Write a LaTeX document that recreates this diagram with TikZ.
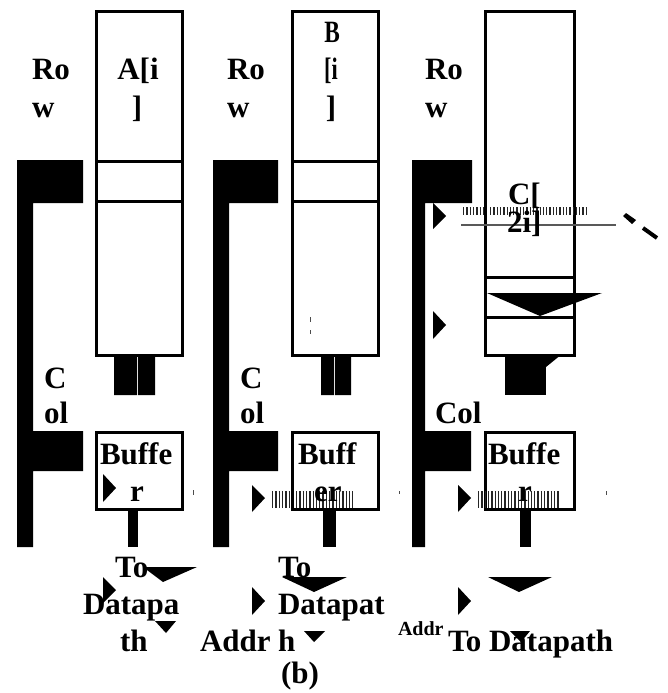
\documentclass[tikz,border=0pt]{standalone}
\usepackage{fontspec}
\usepackage{graphicx}
\setmainfont{Liberation Serif}
\begin{document}
\begin{tikzpicture}[x=1pt,y=-1pt,
  box/.style={draw=black,line width=3pt,fill=none},
  solid block/.style={fill=black,draw=none},
  lbl/.style={anchor=base west,inner sep=0pt,outer sep=0pt,font=\fontsize{31}{31}\selectfont\bfseries},
  lblc/.style={lbl,anchor=base},
  hatch/.style={draw=black!85,line width=8pt,dash pattern=on 1.3pt off 2pt},
  hatchb/.style={draw=black!85,line width=17pt,dash pattern=on 1.3pt off 2pt},
  speck/.style={draw=black!70,line width=1pt}]
\useasboundingbox (0,0) rectangle (667,693);
% column A
\fill[solid block] (17,160) rectangle (83,203) (17,160) rectangle (33,547) (33,431) rectangle (83,471);
\draw[box] (96.5,11.5) rectangle (182.5,355.5);
\draw[box] (96.5,161.5) -- (182.5,161.5) (96.5,201.5) -- (182.5,201.5);
\fill[solid block] (114,357) rectangle (137,395) (138,357) rectangle (155,395);
\draw[box] (96.5,432.5) rectangle (182.5,509.5);
\fill[solid block] (128,511) rectangle (138,547);
% column B
\fill[solid block] (213,160) rectangle (278,203) (213,160) rectangle (229,547) (229,431) rectangle (278,471);
\draw[box] (292.5,11.5) rectangle (378.5,355.5);
\draw[box] (292.5,161.5) -- (378.5,161.5) (292.5,201.5) -- (378.5,201.5);
\fill[solid block] (321,357) rectangle (334,395) (335,357) rectangle (351,395);
\draw[box] (292.5,432.5) rectangle (378.5,509.5);
\fill[solid block] (323,511) rectangle (336,547);
% column C
\fill[solid block] (412,160) rectangle (472,203) (412,160) rectangle (425,547) (425,431) rectangle (471,471);
\draw[box] (485.5,11.5) rectangle (574.5,355.5);
\draw[box] (485.5,277.5) -- (574.5,277.5) (485.5,317.5) -- (574.5,317.5);
\fill[solid block] (505,357) rectangle (546,395);
\draw[box] (485.5,432.5) rectangle (574.5,509.5);
\fill[solid block] (520,511) rectangle (531,547);
% hatching and thin lines
\draw[hatchb] (272,499.5) -- (290,499.5) (296,499.5) -- (353,499.5);
\draw[hatchb] (478,499.5) -- (559,499.5);
\draw[hatch] (463,211) -- (483,211) (490,211) -- (586,211);
\draw[draw=black!65,line width=2pt] (461,225) -- (616,225);
% triangles
\fill[solid block] (103,474) -- (103,502) -- (116,488) -- cycle;
\fill[solid block] (103,577) -- (103,603) -- (116,590) -- cycle;
\fill[solid block] (143,567) -- (197,567) -- (163,582) -- cycle;
\fill[solid block] (155,621) -- (176,621) -- (166,633) -- cycle;
\fill[solid block] (252,485) -- (252,512) -- (265,498) -- cycle;
\fill[solid block] (252,587) -- (252,615) -- (265,601) -- cycle;
\fill[solid block] (282,577) -- (347,577) -- (314,592) -- cycle;
\fill[solid block] (304,631) -- (325,631) -- (314,642) -- cycle;
\fill[solid block] (433,203) -- (433,229) -- (446,216) -- cycle;
\fill[solid block] (433,311) -- (433,339) -- (446,325) -- cycle;
\fill[solid block] (458,485) -- (458,512) -- (471,498) -- cycle;
\fill[solid block] (458,587) -- (458,615) -- (471,601) -- cycle;
\fill[solid block] (487,293) -- (602,293) -- (540,316) -- cycle;
\fill[solid block] (525,354) -- (562,354) -- (546,367) -- cycle;
\fill[solid block] (488,577) -- (552,577) -- (519,592) -- cycle;
\fill[solid block] (510,631) -- (530,631) -- (521,642) -- cycle;
% dashes at the right
\fill[solid block] (623,216) -- (626,213) -- (636,220) -- (632,224) -- cycle;
\draw[line width=4pt] (643,228) -- (657,238);
% specks
\draw[speck] (193.5,490) -- (193.5,495) (399,491) -- (399,494) (606,491) -- (606,495) (310,317) -- (310,322) (310,330) -- (310,334);
% labels, column A
\node[lbl] (rowa1) at (32,80) {Ro};
\node[lbl] (rowa2) at (32,117) {w};
\node[lblc] (aa1) at (138,80) {A[i};
\node[lblc] (aa2) at (137,117) {]};
\node[lbl] (cola1) at (44,388) {C};
\node[lbl] (cola2) at (44,423) {ol};
\node[lbl] (bufa1) at (100,464) {Buffe};
\node[lbl] (bufa2) at (130,501) {r};
\node[lbl] (toa1) at (115,577) {To};
\node[lbl] (toa2) at (83,614) {Datapa};
\node[lbl] (toa3) at (120,651) {th};
% labels, column B
\node[lbl] (rowb1) at (227,80) {Ro};
\node[lbl] (rowb2) at (227,117) {w};
\node[lblc] (bb1) at (332,43) {\scalebox{0.75}[1]{B}};
\node[lblc] (bb2) at (331,80) {\scalebox{0.72}[1]{[i}};
\node[lblc] (bb3) at (331,117) {]};
\node[lbl] (colb1) at (240,388) {C};
\node[lbl] (colb2) at (240,423) {ol};
\node[lbl] (bufb1) at (298,464) {Buff};
\node[lbl] (bufb2) at (314,501) {er};
\node[lbl] (tob1) at (278,577) {To};
\node[lbl] (tob2) at (278,614) {Datapat};
\node[lbl] (tob3) at (278,651) {h};
\node[lbl] (addrb) at (200,651) {Addr};
\node[lbl] (capb) at (281,683) {(b)};
% labels, column C
\node[lbl] (rowc1) at (425,80) {Ro};
\node[lbl] (rowc2) at (425,117) {w};
\node[lbl] (cc1) at (508,204) {C[};
\node[lbl] (cc2) at (507,232) {2i]};
\node[lbl] (colc) at (435,423) {Col};
\node[lbl] (bufc1) at (488,464) {Buffe};
\node[lbl] (bufc2) at (518,501) {r};
\node[lbl,font=\fontsize{20}{20}\selectfont\bfseries] (addrc) at (398,635) {Addr};
\node[lbl] (toc) at (448,651) {To Datapath};
\end{tikzpicture}
\end{document}
